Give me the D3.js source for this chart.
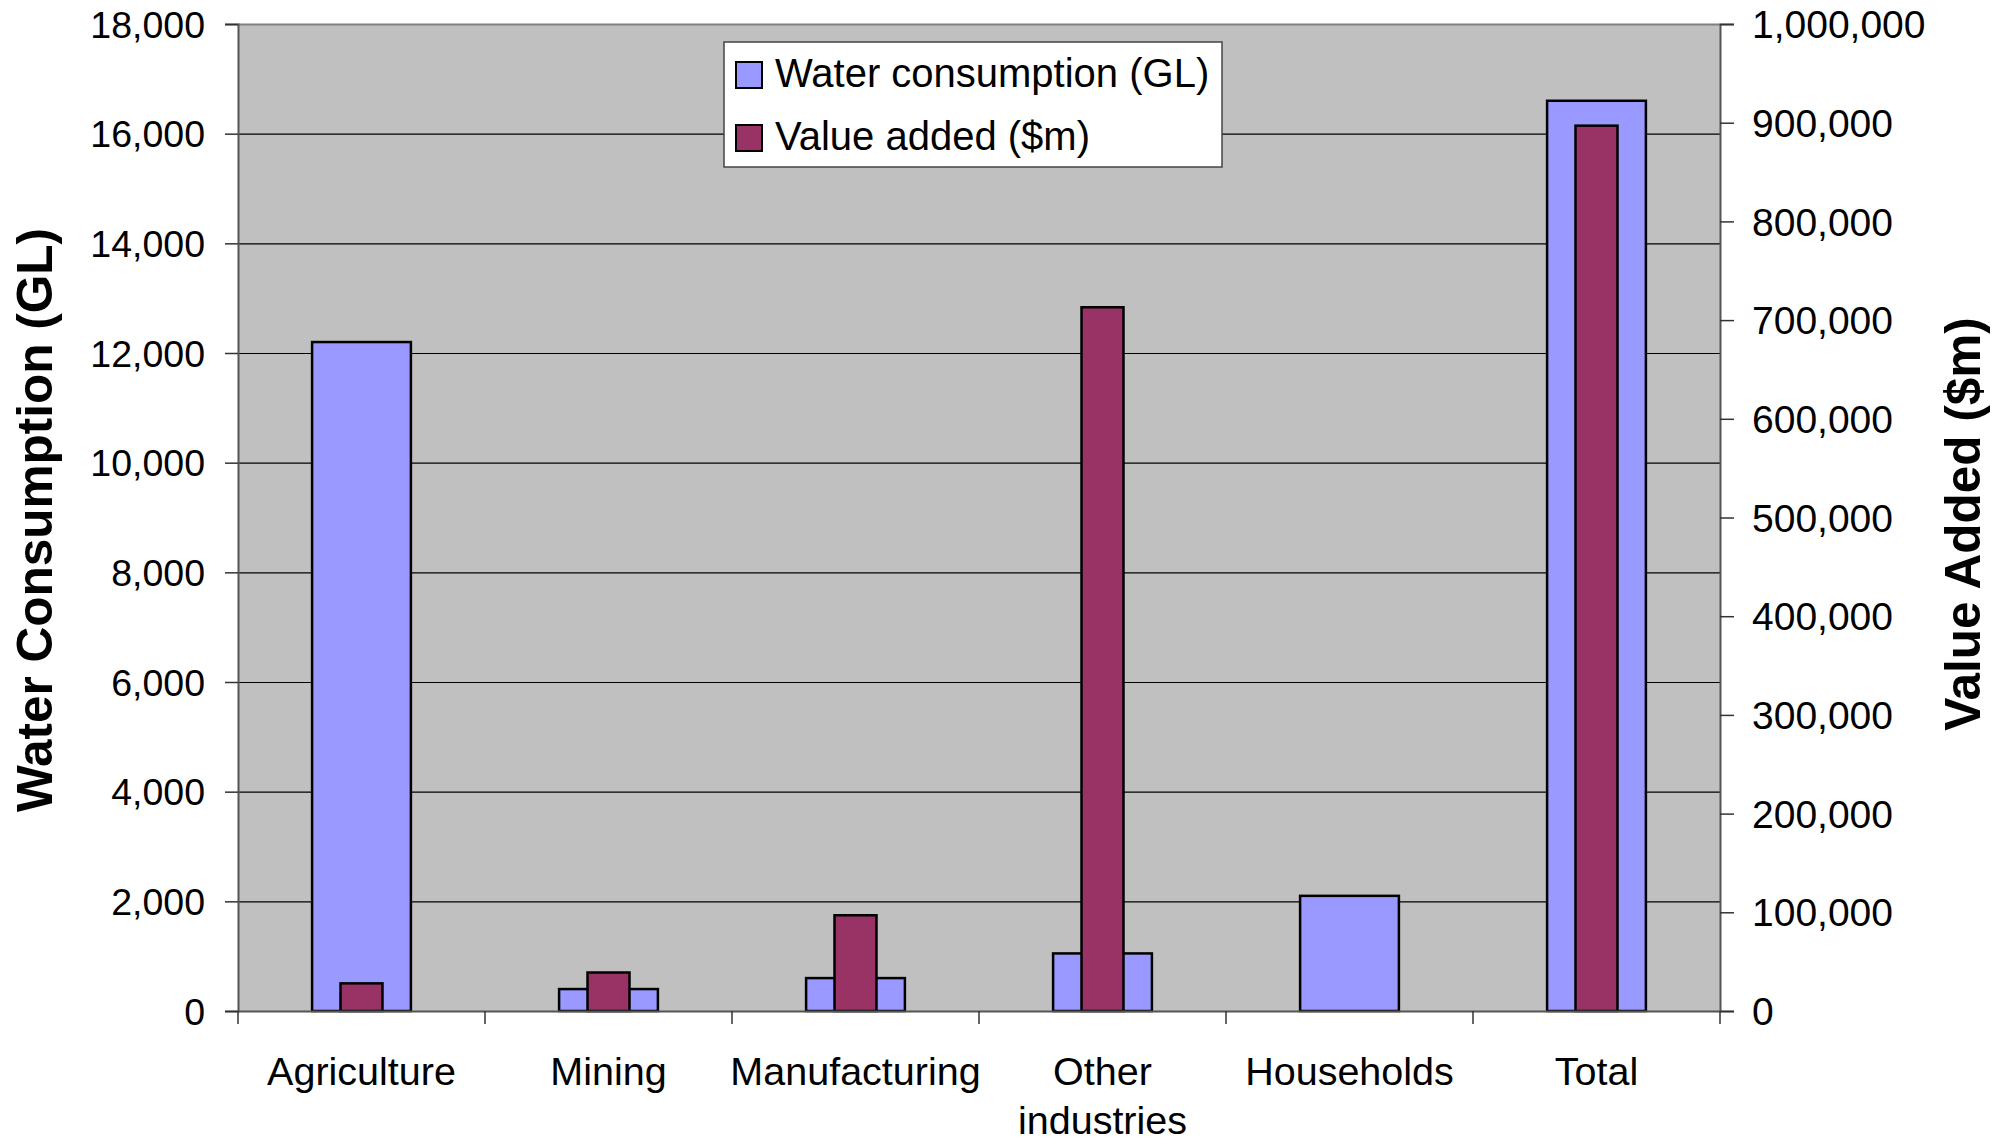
<!DOCTYPE html>
<html>
<head>
<meta charset="utf-8">
<script src="https://cdn.jsdelivr.net/npm/d3@7"></script>
<style>
  body { margin: 0; background: #fff; }
  svg { display: block; font-family: "Liberation Sans", Arial, sans-serif; }
  .tick text { fill: #000; }
  .y-left .tick text { font-size: 37.5px; }
  .y-right .tick text { font-size: 39px; }
</style>
</head>
<body>
<div class="chart"></div>
<script>
// data
const categories = ["Agriculture", "Mining", "Manufacturing", "Other industries", "Households", "Total"];
const waterGL = [12200, 400, 600, 1050, 2100, 16600];
const valueAddedM = [28000, 39000, 97000, 713000, 0, 897000];
const leftTicks = [0, 2000, 4000, 6000, 8000, 10000, 12000, 14000, 16000, 18000];
const rightTicks = [0, 100000, 200000, 300000, 400000, 500000, 600000, 700000, 800000, 900000, 1000000];
const seriesNames = ["Water consumption (GL)", "Value added ($m)"];
const colors = ["#9999FF", "#993366"];

const W = 2009, H = 1141;
const margin = {top: 24, right: 289, bottom: 130, left: 238};
const width = W - margin.left - margin.right,
      height = H - margin.top - margin.bottom;

const svg = d3.select(".chart")
    .append("svg")
    .attr("width", W)
    .attr("height", H);

const g = svg.append("g")
    .attr("transform", `translate(${margin.left},${margin.top})`);

// scales
const xScale = d3.scaleBand()
    .domain(categories)
    .range([0, width]);

const yLeft = d3.scaleLinear().domain([0, 18000]).range([height, 0]);
const yRight = d3.scaleLinear().domain([0, 1000000]).range([height, 0]);

// plot area
g.append("rect")
    .attr("width", width)
    .attr("height", height)
    .attr("fill", "#C0C0C0");

// gridlines off the left axis
g.selectAll(".grid")
    .data(leftTicks.slice(1, -1))
    .enter()
    .append("line")
    .attr("x1", 0)
    .attr("x2", width)
    .attr("y1", d => yLeft(d) + 0.5)
    .attr("y2", d => yLeft(d) + 0.5)
    .attr("stroke", "#000")
    .attr("stroke-width", 1.2);

// top border
g.append("line")
    .attr("x1", 0).attr("x2", width)
    .attr("y1", 0.5).attr("y2", 0.5)
    .attr("stroke", "#808080").attr("stroke-width", 2);

// bars
const bw = xScale.bandwidth();
const blueW = bw * 0.40, redW = bw * 0.17;

g.selectAll(".bar-water")
    .data(categories)
    .enter()
    .append("rect")
    .attr("class", "bar-water")
    .attr("x", (d, i) => xScale(d) + (bw - blueW) / 2)
    .attr("y", (d, i) => yLeft(waterGL[i]))
    .attr("width", blueW)
    .attr("height", (d, i) => height - yLeft(waterGL[i]))
    .attr("fill", colors[0])
    .attr("stroke", "#000")
    .attr("stroke-width", 2.5);

g.selectAll(".bar-value")
    .data(categories.filter((d, i) => valueAddedM[i] > 0))
    .enter()
    .append("rect")
    .attr("class", "bar-value")
    .attr("x", d => xScale(d) + (bw - redW) / 2)
    .attr("y", d => yRight(valueAddedM[categories.indexOf(d)]))
    .attr("width", redW)
    .attr("height", d => height - yRight(valueAddedM[categories.indexOf(d)]))
    .attr("fill", colors[1])
    .attr("stroke", "#000")
    .attr("stroke-width", 2.5);

// axes
const fmt = d3.format(",");

const leftAxis = g.append("g")
    .attr("class", "axis y-left")
    .call(d3.axisLeft(yLeft).tickValues(leftTicks).tickFormat(fmt).tickSize(13).tickPadding(20));

const rightAxis = g.append("g")
    .attr("class", "axis y-right")
    .attr("transform", `translate(${width},0)`)
    .call(d3.axisRight(yRight).tickValues(rightTicks).tickFormat(fmt).tickSize(14).tickPadding(18));

const xAxis = g.append("g")
    .attr("class", "axis x-axis")
    .attr("transform", `translate(0,${height})`)
    .call(d3.axisBottom(xScale).tickSize(0).tickPadding(0).tickFormat(""));

[leftAxis, rightAxis, xAxis].forEach(a => {
    a.select(".domain").attr("stroke", "#555").attr("stroke-width", 2);
    a.selectAll(".tick line").attr("stroke", "#333").attr("stroke-width", 1.5);
});
leftAxis.selectAll(".tick text").attr("dy", "0.35em");
rightAxis.selectAll(".tick text").attr("dy", "0.35em");

// category boundary ticks
g.selectAll(".xtick")
    .data(categories.concat(["_end"]))
    .enter()
    .append("line")
    .attr("x1", (d, i) => i * bw)
    .attr("x2", (d, i) => i * bw)
    .attr("y1", height)
    .attr("y2", height + 13)
    .attr("stroke", "#333")
    .attr("stroke-width", 1.5);

// category labels (wrapped)
const xl = g.selectAll(".xlabel")
    .data(categories)
    .enter()
    .append("text")
    .attr("class", "xlabel")
    .attr("text-anchor", "middle")
    .attr("font-size", 39.5)
    .attr("x", d => xScale(d) + bw / 2)
    .attr("y", height + 74);

xl.each(function(d) {
    const words = d === "Other industries" ? ["Other", "industries"] : [d];
    const t = d3.select(this);
    words.forEach((w, j) => {
        t.append("tspan")
            .attr("x", xScale(d) + bw / 2)
            .attr("dy", j === 0 ? 0 : 49)
            .text(w);
    });
});

// axis titles
svg.append("text")
    .attr("transform", `translate(${52},${520}) rotate(-90)`)
    .attr("text-anchor", "middle")
    .attr("font-size", 49.5)
    .attr("font-weight", "bold")
    .text("Water Consumption (GL)");

svg.append("text")
    .attr("transform", `translate(${1980},${524}) rotate(-90)`)
    .attr("text-anchor", "middle")
    .attr("font-size", 49.5)
    .attr("font-weight", "bold")
    .text("Value Added ($m)");

// legend
const legend = svg.append("g")
    .attr("transform", "translate(724,42)");

legend.append("rect")
    .attr("width", 498)
    .attr("height", 125)
    .attr("fill", "#fff")
    .attr("stroke", "#444")
    .attr("stroke-width", 1.5);

seriesNames.forEach((name, i) => {
    legend.append("rect")
        .attr("x", 12)
        .attr("y", 20 + i * 63)
        .attr("width", 26)
        .attr("height", 26)
        .attr("fill", colors[i])
        .attr("stroke", "#000")
        .attr("stroke-width", 2);
    legend.append("text")
        .attr("x", 51)
        .attr("y", 45 + i * 63)
        .attr("font-size", 40)
        .text(name);
});
</script>
</body>
</html>
